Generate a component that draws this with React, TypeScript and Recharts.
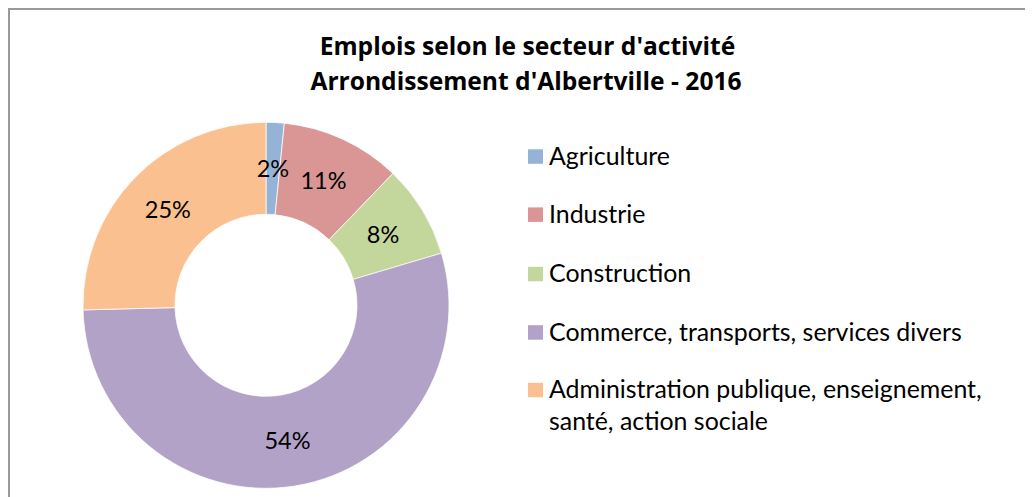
import React from "react";
import { PieChart, Pie, Cell, Legend } from "recharts";

const categories = [
  "Agriculture",
  "Industrie",
  "Construction",
  "Commerce, transports, services divers",
  "Administration publique, enseignement, santé, action sociale",
];
const values = [1.6, 10.6, 8.2, 54.2, 25.4];
const colors = ["#95B3D7", "#D99694", "#C3D69B", "#B2A2C7", "#FAC090"];
const legendLines = [
  ["Agriculture"],
  ["Industrie"],
  ["Construction"],
  ["Commerce, transports, services divers"],
  ["Administration publique, enseignement,", "santé, action sociale"],
];
const titleLines = ["Emplois selon le secteur d'activité", "Arrondissement d'Albertville - 2016"];

const data = categories.map((name, i) => ({ name, value: values[i] }));

const FONT = "Lato, 'Open Sans', sans-serif";
const TITLE_FONT = "'Open Sans', Lato, sans-serif";
const RADIAN = Math.PI / 180;

const renderLabel = (props: any) => {
  const { cx, cy, midAngle, innerRadius, outerRadius, percent } = props;
  const r = (innerRadius + outerRadius) / 2;
  const x = cx + r * Math.cos(-midAngle * RADIAN);
  const y = cy + r * Math.sin(-midAngle * RADIAN);
  return (
    <text x={x} y={y + 8.5} textAnchor="middle" fill="#000" fontSize={23.5} fontFamily={FONT}>
      {`${Math.round(percent * 100)}%`}
    </text>
  );
};

const LEG_TOP = 130;
const baselines = [164.8, 222.9, 282.3, 340.7, 398.3];

const renderLegend = () => {
  return (
    <svg width={490} height={320} style={{ display: "block" }}>
      {categories.map((name, i) => {
        const b = baselines[i] - 8 - LEG_TOP;
        const lines = legendLines[i];
        return (
          <g key={name}>
            <rect x={0} y={b - 15.5} width={15} height={14.5} fill={colors[i]} />
            {lines.map((ln, j) => (
              <text key={j} x={21} y={b + j * 31.7} fontSize={24.9} fontFamily={FONT} fill="#000">
                {ln}
              </text>
            ))}
          </g>
        );
      })}
    </svg>
  );
};

export default function App() {
  return (
    <div style={{ position: "relative", width: 1025, height: 489, overflow: "hidden" }}>
      <PieChart width={1025} height={489} margin={{ top: 0, right: 0, bottom: 0, left: 0 }}>
        <text x={519.5} y={47} textAnchor="middle" fontSize={24.6} fontWeight={700} fontFamily={TITLE_FONT} fill="#000">
          {titleLines[0]}
        </text>
        <text x={518} y={82} textAnchor="middle" fontSize={24.6} fontWeight={700} fontFamily={TITLE_FONT} fill="#000">
          {titleLines[1]}
        </text>
        <Pie
          data={data}
          dataKey="value"
          nameKey="name"
          cx={258}
          cy={297.3}
          innerRadius={91}
          outerRadius={183}
          startAngle={90}
          endAngle={-270}
          stroke="#fff"
          strokeWidth={0.75}
          label={renderLabel}
          labelLine={false}
          isAnimationActive={false}
        >
          {data.map((d, i) => (
            <Cell key={d.name} fill={colors[i]} />
          ))}
        </Pie>
        <Legend
          content={renderLegend}
          layout="vertical"
          wrapperStyle={{ position: "absolute", left: 520, top: LEG_TOP, width: 490, height: 320 }}
        />
      </PieChart>
      <div
        style={{
          position: "absolute",
          left: 0,
          top: 0,
          width: 1100,
          height: 600,
          borderTop: "2px solid #999",
          borderLeft: "2px solid #999",
          pointerEvents: "none",
        }}
      />
    </div>
  );
}
